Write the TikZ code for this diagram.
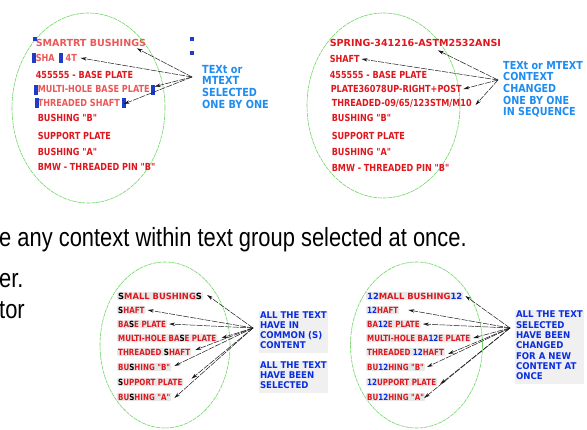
\documentclass[tikz,border=0pt]{standalone}
\usepackage{fontspec}
\usepackage{graphicx}
\usetikzlibrary{arrows.meta}
\newfontfamily\lblfont{DejaVu Sans}
\newfontfamily\arialfont{Liberation Sans}
\newcommand{\vs}[1]{\scalebox{1}[1.2]{#1}}
\newcommand{\vsw}[1]{\scalebox{1.18}[1.2]{#1}}
\newcommand{\blk}[2]{\scalebox{1}[#1]{\begin{tabular}{@{}l@{}}#2\end{tabular}}}
\definecolor{tred}{RGB}{222,24,30}
\definecolor{selred}{RGB}{236,88,88}
\definecolor{tblue}{RGB}{30,140,240}
\definecolor{dblue}{RGB}{10,45,225}
\definecolor{gripblue}{RGB}{30,60,200}
\definecolor{ellgreen}{RGB}{110,215,100}
\tikzset{
  toptxt/.style={anchor=west, inner sep=0.6pt, text height=7.1pt, text depth=0pt,
    font=\lblfont\bfseries\fontsize{8.1}{9}\selectfont, text=tred},
  seltxt/.style={toptxt, text=selred},
  bottxt/.style={anchor=west, inner sep=1pt, text height=6.2pt, text depth=0pt,
    font=\lblfont\bfseries\fontsize{7.1}{8}\selectfont, text=tred,
    fill=black!9, rounded corners=1pt},
  bluetop/.style={anchor=north west, inner sep=0pt, text=tblue,
    font=\lblfont\bfseries\fontsize{9.7}{10.1}\selectfont},
  bluetopb/.style={bluetop, font=\lblfont\bfseries\fontsize{9.6}{10.0}\selectfont},
  bluebot/.style={anchor=north west, inner sep=0.8pt, text=dblue,
    fill=black!6, font=\lblfont\bfseries\fontsize{8.6}{9.26}\selectfont},
  bluebotb/.style={bluebot, font=\lblfont\bfseries\fontsize{8.6}{9.57}\selectfont},
  bigtxt/.style={anchor=base west, inner sep=0pt,
    font=\arialfont\fontsize{21.9}{24}\selectfont},
  grip/.style={fill=gripblue, inner sep=0pt, minimum width=4pt, minimum height=4.5pt},
  tallgrip/.style={grip, minimum height=10pt},
  ell/.style={draw=ellgreen, line width=0.6pt, dash pattern=on 4pt off 0.8pt},
  arr/.style={-{Stealth[length=6pt,width=3.4pt]}, line width=0.5pt, black!90,
    dash pattern=on 6pt off 1.2pt},
}
\begin{document}
\begin{tikzpicture}[x=1pt,y=-1pt]
\useasboundingbox (0,0) rectangle (587,430);
\fill[white] (0,0) rectangle (587,430);

% ---------------- top left panel ----------------
\draw[ell] (88.5,108) ellipse [x radius=76.5pt, y radius=95pt];
\node[seltxt] (t1) at (35,43) {\vsw{SMARTRT BUSHINGS}};
\node[seltxt] (t2) at (35,58) {\vs{SHA\hspace{11pt}4T}};
\node[toptxt] (t3) at (35,75) {\vs{455555 - BASE PLATE}};
\node[seltxt] (t4) at (37,89) {\vs{MULTI-HOLE BASE PLATE}};
\node[seltxt] (t5) at (37,103) {\vs{THREADED SHAFT}};
\node[toptxt] (t6) at (37,118) {\vs{BUSHING "B"}};
\node[toptxt] (t7) at (37,136) {\vs{SUPPORT PLATE}};
\node[toptxt] (t8) at (37,152) {\vs{BUSHING "A"}};
\node[toptxt] (t9) at (37,167) {\vs{BMW - THREADED PIN "B"}};
\node[grip] (g1) at (35,39) {};
\node[grip] (g2) at (192,39) {};
\node[grip] (g3) at (192,53) {};
\node[tallgrip] (g4) at (34,58) {};
\node[tallgrip] (g5) at (61,58) {};
\node[tallgrip] (g6) at (36,90) {};
\node[tallgrip] (g7) at (153,90) {};
\node[tallgrip] (g8) at (37,103) {};
\node[tallgrip] (g9) at (124,103) {};
\node[bluetop] (n1) at (202,65) {\blk{1.15}{TEXt or\\MTEXT\\SELECTED\\ONE BY ONE}};
\coordinate (s1) at (192,77);
\draw[arr] (s1) -- ([xshift=-10pt,yshift=-1pt]t1.south east);
\draw[arr] (s1) -- ([xshift=3pt]t2.east);
\draw[arr] (s1) -- ([xshift=4pt,yshift=-2pt]t4.north east);
\draw[arr] (s1) -- ([xshift=3pt,yshift=-1pt]t5.east);

% ---------------- top right panel ----------------
\draw[ell] (383.5,105.5) ellipse [x radius=76.5pt, y radius=92.5pt];
\node[toptxt] (r1) at (329,43) {\vsw{SPRING-341216-ASTM2532ANSI}};
\node[toptxt] (r2) at (329,59) {\vs{SHAFT}};
\node[toptxt] (r3) at (329,75) {\vs{455555 - BASE PLATE}};
\node[toptxt] (r4) at (330,89) {\vs{PLATE36078UP-RIGHT+POST}};
\node[toptxt] (r5) at (331,103) {\vs{THREADED-09/65/123STM/M10}};
\node[toptxt] (r6) at (331,118) {\vs{BUSHING "B"}};
\node[toptxt] (r7) at (331,136) {\vs{SUPPORT PLATE}};
\node[toptxt] (r8) at (331,152) {\vs{BUSHING "A"}};
\node[toptxt] (r9) at (331,168) {\vs{BMW - THREADED PIN "B"}};
\node[bluetopb] (n2) at (503,61) {\blk{1.15}{TEXt or MTEXT\\CONTEXT\\CHANGED\\ONE BY ONE\\IN SEQUENCE}};
\coordinate (s2) at (498,80);
\draw[arr] (s2) -- ([xshift=-64pt,yshift=-3pt]r1.south east);
\draw[arr] (s2) -- ([xshift=1pt]r2.east);
\draw[arr] (s2) -- ([xshift=1pt]r4.east);
\draw[arr] (s2) -- ([xshift=3pt,yshift=-2pt]r5.east);

% ---------------- big text ----------------
\node[bigtxt] (m1) at (-1,247) {\scalebox{1}[1.2]{e any context within text group selected at once.}};
\node[bigtxt] (m2) at (-1,288) {\scalebox{1}[1.2]{er.}};
\node[bigtxt] (m3) at (-1,319) {\scalebox{1}[1.2]{tor}};

% ---------------- bottom left panel ----------------
\draw[ell] (165,345) ellipse [x radius=65pt, y radius=83pt];
\node[bottxt] (b1) at (117,296) {\vsw{\textcolor{black}{S}MALL BUSHING\textcolor{black}{S}}};
\node[bottxt] (b2) at (117,310) {\vs{\textcolor{black}{S}HAFT}};
\node[bottxt] (b3) at (117,324) {\vs{BA\textcolor{black}{S}E PLATE}};
\node[bottxt] (b4) at (117,338) {\vs{MULTI-HOLE BA\textcolor{black}{S}E PLATE}};
\node[bottxt] (b5) at (117,352) {\vs{THREADED \textcolor{black}{S}HAFT}};
\node[bottxt] (b6) at (117,367) {\vs{BU\textcolor{black}{S}HING "B"}};
\node[bottxt] (b7) at (117,382) {\vs{\textcolor{black}{S}UPPORT PLATE}};
\node[bottxt] (b8) at (117,397) {\vs{BU\textcolor{black}{S}HING "A"}};
\node[bluebot] (n3) at (259,310.7) {\blk{1.08}{ALL THE TEXT\\HAVE IN\\COMMON (S)\\CONTENT}};
\node[bluebot] (n4) at (259,360.7) {\blk{1.08}{ALL THE TEXT\\HAVE BEEN\\SELECTED}};
\coordinate (s3) at (253,328);
\draw[arr] (s3) -- ([xshift=4pt,yshift=1pt]b1.east);
\draw[arr] (s3) -- ([xshift=2pt]b2.east);
\draw[arr] (s3) -- ([xshift=2pt]b3.east);
\draw[arr] (s3) -- ([xshift=4pt]b4.east);
\draw[arr] (s3) -- ([xshift=4pt,yshift=2pt]b5.east);
\draw[arr] (s3) -- ([xshift=3pt,yshift=1pt]b6.east);
\draw[arr] (s3) -- ([xshift=8pt,yshift=-1pt]b7.north east);
\draw[arr] (s3) -- ([xshift=3pt,yshift=-1pt]b8.east);

% ---------------- bottom right panel ----------------
\draw[ell] (416.5,345) ellipse [x radius=66pt, y radius=83pt];
\node[bottxt] (c1) at (366,296) {\vsw{\textcolor{dblue}{12}MALL BUSHING\textcolor{dblue}{12}}};
\node[bottxt] (c2) at (366,310) {\vs{\textcolor{dblue}{12}HAFT}};
\node[bottxt] (c3) at (366,324) {\vs{BA\textcolor{dblue}{12}E PLATE}};
\node[bottxt] (c4) at (366,338) {\vs{MULTI-HOLE BA\textcolor{dblue}{12}E PLATE}};
\node[bottxt] (c5) at (366,352) {\vs{THREADED \textcolor{dblue}{12}HAFT}};
\node[bottxt] (c6) at (366,367) {\vs{BU\textcolor{dblue}{12}HING "B"}};
\node[bottxt] (c7) at (366,382) {\vs{\textcolor{dblue}{12}UPPORT PLATE}};
\node[bottxt] (c8) at (366,397) {\vs{BU\textcolor{dblue}{12}HING "A"}};
\node[bluebotb] (n5) at (515,309.7) {\blk{1.08}{ALL THE TEXT\\SELECTED\\HAVE BEEN\\CHANGED\\FOR A NEW\\CONTENT AT\\ONCE}};
\coordinate (s4) at (510,328);
\draw[arr] (s4) -- ([xshift=2pt]c1.east);
\draw[arr] (s4) -- ([xshift=9pt]c2.east);
\draw[arr] (s4) -- ([xshift=2pt]c3.east);
\draw[arr] (s4) -- ([xshift=2pt]c4.east);
\draw[arr] (s4) -- ([xshift=3pt,yshift=-2pt]c5.east);
\draw[arr] (s4) -- ([xshift=2pt]c6.east);
\draw[arr] (s4) -- ([xshift=3pt,yshift=-2pt]c7.east);
\draw[arr] (s4) -- ([xshift=-1pt,yshift=-1pt]c8.east);
\end{tikzpicture}
\end{document}
